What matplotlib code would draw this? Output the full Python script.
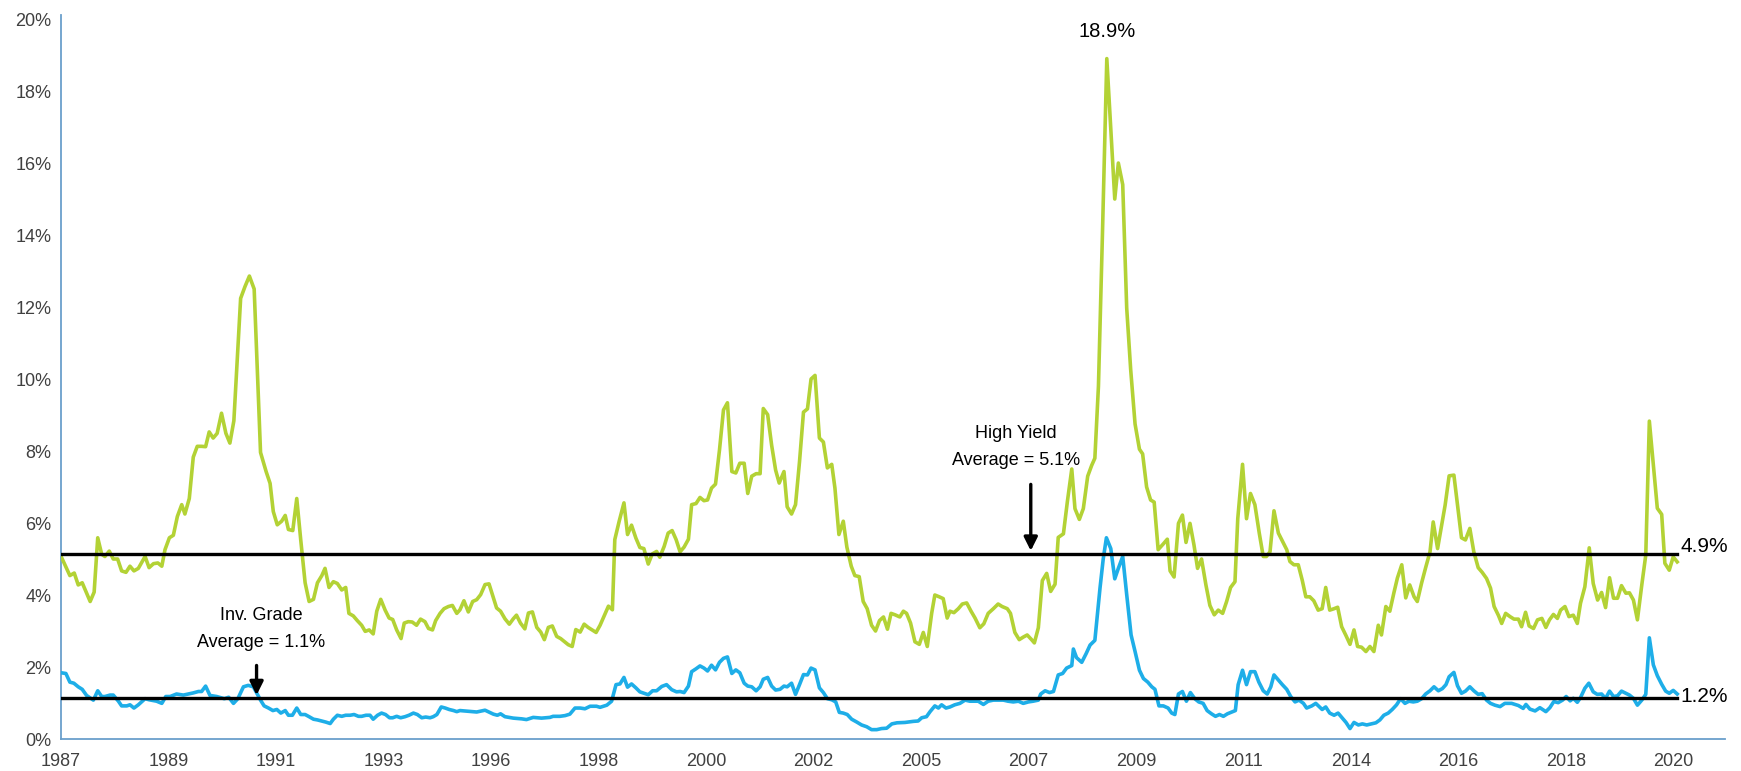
import matplotlib
matplotlib.use("Agg")
import matplotlib.pyplot as plt

plt.rcParams['font.family'] = ['Liberation Sans', 'DejaVu Sans']

# month index from Jan 1987, spread in percent
hy_month = [0, 2.2, 3.3, 4.3, 5.3, 7.3, 8.3, 9.2, 10.2, 11.0, 12.1, 13.1, 14.2, 15.2, 16.3, 17.3, 18.3, 19.4,
            21.1, 22.1, 23.2, 24.3, 25.3, 26.1, 27.2, 28.2, 29.2, 30.3, 31.1, 32.2, 33.2, 34.2, 35.3, 36.3,
            37.2, 38.2, 39.2, 40.3, 41.4, 42.4, 43.4, 45.1, 46.2, 47.3, 48.5, 50.1,
            51.5, 52.5, 53.3, 54.3, 55.4, 56.3, 57.1, 58.2, 59.2, 60.2, 61.3, 62.3, 63.4, 64.4, 65.5, 66.3,
            67.3, 68.4, 69.4, 70.5, 71.5, 72.3, 73.4, 74.4, 75.5, 76.4, 77.4, 78.4, 79.3, 80.3, 81.4, 82.4,
            83.3, 84.3, 85.4, 86.2, 87.2, 88.2, 89.3, 90.3, 91.4, 92.3, 93.3, 94.1, 95.2, 96.2, 97.3, 98.3, 99.4,
            100.2, 101.2, 102.3, 103.4, 104.4, 105.4, 106.5, 107.5, 109.4, 110.4, 111.5, 112.6, 113.6, 114.4,
            115.4, 116.5, 117.4, 118.4, 119.5, 120.5, 121.4, 122.4, 123.4, 124.5, 125.5, 126.6, 127.4, 128.4,
            129.3, 130.4, 131.4, 132.4, 134.4, 135.4, 136.4, 137.5, 138.5, 139.1, 140.2, 141.4, 142.3, 143.3,
            144.4, 145.4, 146.4, 147.5, 148.5, 149.6, 150.4, 151.5, 152.5, 153.5, 154.5,
            155.5, 156.5, 157.6, 158.4, 159.5, 160.5, 161.5, 162.4, 163.4, 164.4, 165.4, 166.4, 167.4, 168.5,
            169.5, 170.5, 171.6, 172.5, 173.5, 174.6, 175.6, 176.4, 177.5, 178.5, 179.5, 180.4, 181.6, 182.4,
            183.5, 184.5, 185.5, 186.5, 187.5, 188.4, 189.4, 190.5, 191.5, 192.5, 193.6, 194.4, 195.4, 196.5,
            197.4, 198.5, 199.4, 200.5, 201.5, 202.5, 203.6, 204.6, 205.6, 206.6, 207.6, 208.5, 209.5, 210.7,
            211.6, 212.4, 213.4, 214.5, 215.6, 216.6, 217.6, 218.7, 219.5, 220.6, 221.6, 222.6, 223.3, 224.3,
            225.4, 226.4, 227.5, 228.6, 229.6, 230.8, 231.8, 232.9, 234.2, 235.4, 236.4, 237.7, 238.5, 239.6,
            240.7, 241.7, 242.7, 243.8, 244.5, 245.5, 246.5, 247.6, 248.6, 249.7, 250.5, 251.8, 252.8, 253.9,
            254.7, 255.8, 256.8, 257.9, 258.9, 259.7, 260.6, 261.6, 262.7,
            264.7, 265.6, 266.7, 267.7, 268.7, 269.8, 270.9, 271.7, 272.7, 273.7, 274.6, 275.6, 276.9, 277.9,
            278.6, 279.6, 280.7, 281.7, 282.6, 283.6, 284.6, 285.5, 286.5, 287.6, 288.6, 289.7, 290.7, 291.8,
            292.8, 293.8, 294.9, 295.6, 296.8, 297.8, 298.8, 299.9, 301.0, 302.0, 302.8, 303.7, 304.7, 305.8,
            306.8, 307.9, 308.7, 309.7, 310.8, 311.8, 312.7,
            313.7, 314.7, 315.8, 316.8, 317.7, 318.7, 319.8, 320.7, 321.7, 322.8, 323.8, 324.8, 325.7, 326.7,
            327.8, 328.8, 329.8, 330.9, 331.7, 332.8, 333.8, 334.8, 335.7, 336.8, 337.8, 338.8, 339.9, 340.7,
            341.8, 342.8, 343.9, 344.7, 345.8,
            346.8, 347.7, 348.7, 349.9, 350.8, 351.8, 352.8, 353.9, 354.9, 356.0, 357.0, 358.1, 359.1, 360.0,
            361.1, 361.9, 362.9, 364.0, 365.0, 366.1, 366.9, 367.9, 368.8, 369.9, 370.9, 372.0, 373.0, 373.9,
            374.9, 375.9, 376.7, 377.8, 378.8, 379.9, 380.9, 381.7, 382.8, 383.9, 384.9, 386.0, 387.0, 388.0,
            389.0, 390.0, 391.0, 392.0, 393.1, 394.0, 395.0, 396.0, 397.1, 398.1, 399.0, 400.0, 401.0, 402.1,
            402.9, 404.0, 405.0, 406.0]
hy_value = [5.07, 4.54, 4.61, 4.28, 4.34, 3.82, 4.08, 5.59, 5.13, 5.07, 5.22, 5.0, 5.0, 4.67, 4.63, 4.8, 4.67, 4.74,
            5.07, 4.76, 4.87, 4.89, 4.8, 5.26, 5.59, 5.66, 6.18, 6.51, 6.25, 6.68, 7.83, 8.13, 8.13, 8.12,
            8.53, 8.36, 8.49, 9.05, 8.49, 8.22, 8.84, 12.24, 12.57, 12.86, 12.5, 7.96,
            7.43, 7.1, 6.32, 5.95, 6.05, 6.21, 5.82, 5.79, 6.68, 5.53, 4.34, 3.82, 3.88, 4.34, 4.54, 4.74,
            4.21, 4.37, 4.32, 4.14, 4.21, 3.49, 3.42, 3.29, 3.16, 2.99, 3.03, 2.92, 3.55, 3.88, 3.58, 3.36,
            3.32, 3.03, 2.79, 3.22, 3.26, 3.25, 3.16, 3.33, 3.26, 3.07, 3.03, 3.29, 3.49, 3.62, 3.68, 3.71, 3.49,
            3.59, 3.84, 3.53, 3.82, 3.87, 4.01, 4.29, 4.31, 3.64, 3.55, 3.34, 3.19, 3.34, 3.44,
            3.22, 3.06, 3.5, 3.53, 3.10, 2.97, 2.76, 3.10, 3.14, 2.85, 2.79, 2.69, 2.62, 2.57,
            3.04, 2.97, 3.19, 3.10, 2.96, 3.16, 3.41, 3.69, 3.59, 5.54, 6.05, 6.56, 5.68, 5.94,
            5.58, 5.32, 5.29, 4.86, 5.14, 5.21, 5.05, 5.35, 5.72, 5.79, 5.54,
            5.20, 5.33, 5.55, 6.51, 6.54, 6.71, 6.62, 6.64, 6.97, 7.08, 8.03, 9.14, 9.34, 7.43,
            7.39, 7.66, 7.66, 6.82, 7.30, 7.37, 7.37, 9.18, 9.01, 8.16, 7.47, 7.11, 7.43, 6.45,
            6.25, 6.51, 7.70, 9.08, 9.17, 10.0, 10.1, 8.36, 8.25, 7.53, 7.63, 6.97, 5.68, 6.05,
            5.33, 4.80, 4.54, 4.51, 3.82, 3.62, 3.16, 3.0, 3.29, 3.39, 3.05, 3.49, 3.45, 3.39,
            3.55, 3.49, 3.22, 2.70, 2.63, 2.96, 2.57, 3.49, 4.0, 3.95, 3.9, 3.36, 3.55, 3.51,
            3.62, 3.75, 3.78, 3.55, 3.36, 3.09, 3.20, 3.49, 3.62, 3.75, 3.68, 3.62, 3.49, 2.96,
            2.76, 2.83, 2.89, 2.76, 2.67, 3.09, 4.4, 4.6, 4.1, 4.3, 5.6, 5.7, 6.6, 7.5,
            6.4, 6.1, 6.4, 7.3, 7.6, 7.8, 9.8, 14.0, 18.9,
            15.0, 16.0, 15.4, 11.97, 10.26, 8.75, 8.05, 7.92, 7.0, 6.64, 6.58, 5.26, 5.42, 5.55,
            4.67, 4.5, 5.99, 6.22, 5.46, 5.99, 5.39, 4.74, 5.0, 4.28, 3.71, 3.45, 3.58, 3.49,
            3.82, 4.21, 4.37, 6.12, 7.63, 6.12, 6.82, 6.51, 5.72, 5.07, 5.07, 5.20, 6.34, 5.72,
            5.50, 5.26, 4.93, 4.84, 4.84, 4.41, 3.95,
            3.95, 3.84, 3.58, 3.62, 4.21, 3.58, 3.62, 3.66, 3.12, 2.87, 2.63, 3.03, 2.57, 2.55,
            2.43, 2.57, 2.43, 3.16, 2.89, 3.68, 3.55, 4.05, 4.47, 4.84, 3.92, 4.28, 3.95, 3.82,
            4.34, 4.76, 5.20, 6.03, 5.29,
            5.92, 6.5, 7.31, 7.33, 6.5, 5.59, 5.53, 5.85, 5.2, 4.76, 4.63, 4.46, 4.19, 3.68,
            3.43, 3.21, 3.49, 3.40, 3.33, 3.33, 3.12, 3.52, 3.14, 3.07, 3.31, 3.35, 3.10, 3.31,
            3.46, 3.35, 3.58, 3.68, 3.40, 3.44, 3.21, 3.77, 4.23, 5.31, 4.32, 3.86, 4.07, 3.65,
            4.48, 3.91, 3.91, 4.26, 4.05, 4.06, 3.86, 3.31, 4.28, 5.11, 8.83, 7.61, 6.41, 6.24,
            4.88, 4.69, 5.06, 4.92]

ig_month = [0, 1.2, 2.2, 3.2, 4.3, 5.3, 6.4, 8.1, 9.2, 10.2, 11.0, 12.3, 13.1, 14.4, 15.2, 16.5, 17.3, 18.3,
            19.4, 21.1, 22.1, 24.0, 25.3, 26.3, 27.4, 29.0, 30.7, 33.2, 34.5, 35.3, 36.3, 37.4, 39.1, 41.0,
            42.1, 43.3, 44.4, 45.8, 47.0, 48.3, 50.1,
            51.0, 52.1, 53.2, 54.2, 55.2, 56.3, 57.1, 58.1, 59.2, 60.2, 61.3, 62.3, 63.4, 64.4, 65.5, 66.5,
            67.6, 68.4, 69.4, 70.5, 71.5, 72.6, 73.6, 74.7, 75.5, 76.6, 77.6, 78.4, 79.5, 80.5, 81.5, 82.5,
            83.3, 84.3, 85.3, 86.4, 87.4, 88.5, 89.5, 90.6, 91.6, 92.7, 93.5, 94.4, 95.5, 96.5, 97.5, 98.6, 99.4,
            100.2, 102.3, 104.4, 106.5, 108.6, 109.6, 110.4, 111.5, 113.6, 115.7, 116.9, 118.6, 120.7, 122.8,
            123.6, 125.3, 126.6, 127.8, 129.1, 130.4, 131.6, 132.9, 134.5, 135.4, 137.1, 138.3, 139.4, 140.4,
            141.4, 142.3, 143.3, 144.4, 145.4, 147.5, 148.6, 149.6, 150.9, 152.1, 153.4, 154.6,
            155.5, 156.5, 157.6, 158.4, 159.5, 160.5, 161.5, 162.4, 163.4, 164.4, 165.4, 166.4, 167.4, 168.5,
            169.5, 170.5, 171.6, 172.5, 173.5, 174.6, 175.6, 176.4, 177.5, 178.5, 179.5, 180.6, 181.6, 182.4,
            183.5, 184.5, 185.5, 186.5, 187.5, 188.4, 189.4, 190.5, 191.5, 192.5, 193.6, 194.6, 195.5, 196.5,
            197.5, 198.6, 199.9, 201.1, 202.4, 203.6, 204.9, 206.1, 207.4,
            208.7, 210.0, 212.0, 214.1, 215.3, 216.2, 217.4, 218.3, 219.5, 220.4, 221.2, 222.3, 223.3, 224.5,
            225.8, 227.1, 228.3, 229.6, 230.4, 231.7, 232.9, 234.2, 235.4, 236.7, 237.9, 239.2, 240.5, 241.7,
            243.0, 244.2, 245.5, 246.1, 247.2, 248.3, 249.3, 250.5, 251.6, 252.6, 253.9, 254.3, 255.1, 256.4,
            257.5, 258.5, 259.7, 261.0, 261.8, 262.6,
            263.7, 264.7, 265.6, 266.7, 267.7, 268.8, 269.8, 270.9, 271.9, 273.0, 274.0, 274.8, 275.8, 276.9,
            278.1, 279.0, 279.8, 280.7, 281.7, 282.7, 283.7, 284.8, 285.8, 286.9, 287.9, 289.0, 290.0, 291.0,
            292.0, 293.0, 293.9, 295.0, 295.7, 296.8, 297.8, 298.8, 299.9, 300.9, 302.0, 303.0, 303.9, 304.7,
            305.8, 306.8, 307.9, 308.9, 310.0, 311.0, 312.1, 312.9,
            314.2, 315.2, 316.8, 317.7, 318.7, 319.8, 320.8, 321.8, 322.8, 323.8, 324.8, 325.9, 326.9, 328.0,
            329.2, 330.3, 331.3, 332.3, 333.4, 334.4, 335.5, 336.5, 337.6, 338.6, 339.7, 340.7, 341.8, 342.8,
            343.9, 344.9, 346.0,
            347.0, 347.9, 348.7, 349.9, 350.8, 351.8, 352.8, 353.9, 354.9, 356.0, 357.0, 358.1, 359.1, 360.2,
            361.5, 362.7, 364.4, 366.1, 367.3, 368.0, 369.0, 370.3, 371.5, 373.0, 374.0, 375.0, 376.1, 377.2,
            378.1, 379.1, 379.9, 380.9, 381.7, 382.8, 383.8, 384.9, 385.9, 387.0, 388.0, 389.0, 390.0, 391.0,
            392.0, 393.1, 394.0, 395.0, 396.0, 397.1, 398.1, 399.0, 400.0, 401.0, 402.1, 403.1, 404.0, 405.0, 406.0]
ig_value = [1.84, 1.82, 1.58, 1.55, 1.45, 1.38, 1.21, 1.08, 1.34, 1.18, 1.18, 1.22, 1.22, 1.05, 0.92, 0.92, 0.95, 0.86,
            0.95, 1.12, 1.09, 1.05, 0.99, 1.18, 1.18, 1.25, 1.22, 1.28, 1.32, 1.32, 1.47, 1.21, 1.18, 1.12,
            1.16, 0.99, 1.12, 1.45, 1.49, 1.45, 1.08,
            0.92, 0.86, 0.79, 0.82, 0.72, 0.79, 0.66, 0.66, 0.86, 0.68, 0.68, 0.62, 0.55, 0.53, 0.50, 0.47,
            0.43, 0.55, 0.66, 0.63, 0.66, 0.66, 0.68, 0.63, 0.63, 0.66, 0.66, 0.55, 0.66, 0.72, 0.68, 0.59,
            0.59, 0.63, 0.59, 0.62, 0.66, 0.72, 0.68, 0.59, 0.61, 0.59, 0.62, 0.68, 0.89, 0.86, 0.82, 0.79, 0.76,
            0.79, 0.77, 0.75, 0.80, 0.69, 0.66, 0.70, 0.62, 0.58, 0.56, 0.54, 0.60, 0.58, 0.60,
            0.63, 0.63, 0.65, 0.69, 0.86, 0.86, 0.84, 0.91, 0.91, 0.88, 0.94, 1.05, 1.51, 1.53,
            1.71, 1.44, 1.53, 1.42, 1.31, 1.23, 1.34, 1.34, 1.46, 1.51, 1.37, 1.31,
            1.32, 1.29, 1.47, 1.87, 1.95, 2.03, 1.97, 1.89, 2.05, 1.92, 2.13, 2.24, 2.28, 1.82,
            1.92, 1.84, 1.55, 1.47, 1.45, 1.34, 1.45, 1.66, 1.71, 1.47, 1.36, 1.38, 1.47, 1.45,
            1.55, 1.24, 1.51, 1.79, 1.78, 1.97, 1.92, 1.42, 1.29, 1.12, 1.09, 1.03, 0.74, 0.72,
            0.68, 0.55, 0.47, 0.39, 0.34, 0.26, 0.26, 0.29, 0.30,
            0.42, 0.45, 0.46, 0.49, 0.50, 0.59, 0.62, 0.76, 0.92, 0.86, 0.95, 0.86, 0.89, 0.95,
            0.99, 1.08, 1.05, 1.05, 1.05, 0.96, 1.05, 1.08, 1.08, 1.08, 1.05, 1.03, 1.05, 0.99,
            1.03, 1.05, 1.08, 1.25, 1.34, 1.29, 1.32, 1.78, 1.82, 1.97, 2.04, 2.50, 2.26, 2.13,
            2.37, 2.61, 2.74, 4.2, 5.0, 5.59,
            5.29, 4.45, 4.74, 5.07, 4.01, 2.89, 2.43, 1.91, 1.68, 1.58, 1.45, 1.38, 0.92, 0.92,
            0.86, 0.72, 0.68, 1.25, 1.32, 1.05, 1.29, 1.12, 1.03, 0.99, 0.79, 0.70, 0.63, 0.68,
            0.63, 0.70, 0.74, 0.79, 1.51, 1.91, 1.51, 1.87, 1.87, 1.58, 1.34, 1.25, 1.45, 1.78,
            1.64, 1.51, 1.38, 1.18, 1.03, 1.08, 0.99, 0.86,
            0.92, 0.99, 0.82, 0.89, 0.72, 0.66, 0.72, 0.59, 0.46, 0.29, 0.46, 0.39, 0.42, 0.39,
            0.42, 0.45, 0.53, 0.66, 0.72, 0.82, 0.95, 1.12, 0.99, 1.05, 1.03, 1.05, 1.12, 1.25,
            1.34, 1.45, 1.34,
            1.40, 1.51, 1.73, 1.85, 1.48, 1.27, 1.33, 1.45, 1.34, 1.24, 1.26, 1.08, 0.99, 0.94,
            0.90, 0.99, 0.99, 0.93, 0.85, 0.96, 0.83, 0.78, 0.87, 0.76, 0.87, 1.04, 1.01, 1.08,
            1.18, 1.06, 1.13, 1.02, 1.15, 1.41, 1.55, 1.31, 1.24, 1.25, 1.13, 1.33, 1.18, 1.20,
            1.33, 1.27, 1.22, 1.13, 0.94, 1.08, 1.24, 2.81, 2.06, 1.76, 1.52, 1.33, 1.27, 1.35, 1.25]

hy_avg = 5.15
ig_avg = 1.14
tick_months = [0, 27, 54, 81, 108, 135, 162, 189, 216, 243, 270, 297, 324, 351, 378, 405]
tick_labels = ['1987', '1989', '1991', '1993', '1996', '1998', '2000', '2002', '2005',
               '2007', '2009', '2011', '2014', '2016', '2018', '2020']
y_ticks = [0, 2, 4, 6, 8, 10, 12, 14, 16, 18, 20]

green = '#b3d235'
blue = '#1eaee8'
axis_col = '#6a9fcb'
label_col = '#404040'

fig = plt.figure(figsize=(17.41, 7.71), dpi=100)
ax = fig.add_axes([0.0351, 0.0415, 0.9557, 0.9385])

ax.plot(hy_month, hy_value, color=green, lw=2.6, zorder=3)
ax.plot(ig_month, ig_value, color=blue, lw=2.6, zorder=3)

end = hy_month[-1]
ax.plot([0, end], [hy_avg, hy_avg], color='black', lw=2.4, zorder=4)
ax.plot([0, end], [ig_avg, ig_avg], color='black', lw=2.4, zorder=4)

ax.set_xlim(0, 418)
ax.set_ylim(0, 20.1)
ax.set_xticks(tick_months)
ax.set_xticklabels(tick_labels)
ax.set_yticks(y_ticks)
ax.set_yticklabels([f'{v}%' for v in y_ticks])
ax.tick_params(axis='both', length=0, labelsize=13, labelcolor=label_col)
ax.tick_params(axis='x', pad=10)
ax.tick_params(axis='y', pad=7)

for s in ['top', 'right']:
    ax.spines[s].set_visible(False)
for s in ['left', 'bottom']:
    ax.spines[s].set_color(axis_col)
    ax.spines[s].set_linewidth(1.3)

# annotations
peak_i = hy_value.index(max(hy_value))
ax.text(hy_month[peak_i], max(hy_value) + 0.5, f'{max(hy_value):.1f}%', ha='center', va='bottom',
        fontsize=14.5, color='black')
ax.text(end + 0.8, hy_avg + 0.2, f'{hy_value[-1]:.1f}%', ha='left', va='center', fontsize=15)
ax.text(end + 0.8, ig_avg + 0.05, f'{ig_value[-1]:.1f}%', ha='left', va='center', fontsize=15)

ax.text(239.8, 8.5, 'High Yield', ha='center', va='center', fontsize=13)
ax.text(239.8, 7.75, 'Average = 5.1%', ha='center', va='center', fontsize=13)
ax.annotate('', xy=(243.6, hy_avg), xytext=(243.6, 7.15),
            arrowprops=dict(arrowstyle='-|>', color='black', lw=2.4, mutation_scale=20), zorder=5)

ax.text(50.3, 3.44, 'Inv. Grade', ha='center', va='center', fontsize=13)
ax.text(50.3, 2.69, 'Average = 1.1%', ha='center', va='center', fontsize=13)
ax.annotate('', xy=(49.1, ig_avg), xytext=(49.1, 2.12),
            arrowprops=dict(arrowstyle='-|>', color='black', lw=2.4, mutation_scale=20), zorder=5)

fig.savefig('out.png', dpi=100)
